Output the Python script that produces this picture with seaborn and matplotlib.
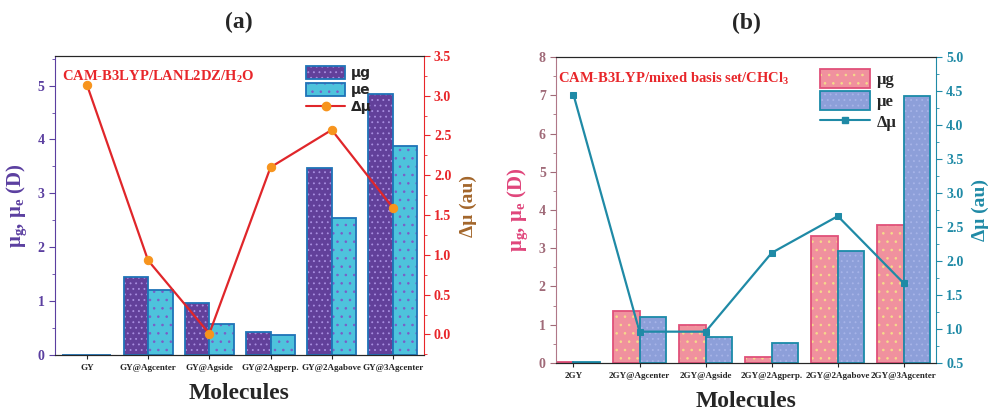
import numpy as np
import pandas as pd
import matplotlib
matplotlib.use("Agg")
import matplotlib.pyplot as plt
import matplotlib.colors as mcolors
from matplotlib.ticker import MultipleLocator
from matplotlib.patches import Patch
from matplotlib.lines import Line2D
import seaborn as sns

# panel (a) data
mol_a = ["GY", "GY@Agcenter", "GY@Agside", "GY@2Agperp.", "GY@2Agabove", "GY@3Agcenter"]
mug_a = [0.01, 1.45, 0.97, 0.42, 3.47, 4.85]
mue_a = [0.01, 1.21, 0.57, 0.38, 2.55, 3.87]
dmu_a = [3.14, 0.93, 0.01, 2.10, 2.57, 1.59]

# panel (b) data
mol_b = ["2GY", "2GY@Agcenter", "2GY@Agside", "2GY@2Agperp.", "2GY@2Agabove", "2GY@3Agcenter"]
mug_b = [0.02, 1.35, 1.00, 0.15, 3.32, 3.61]
mue_b = [0.02, 1.20, 0.68, 0.52, 2.94, 6.98]
dmu_b = [4.45, 0.96, 0.96, 2.12, 2.66, 1.67]

sns.set_style("ticks")
plt.rcParams["font.family"] = ["Liberation Serif", "DejaVu Serif"]
plt.rcParams["font.weight"] = "bold"
plt.rcParams["mathtext.fontset"] = "custom"
plt.rcParams["mathtext.rm"] = "Liberation Serif:bold"
plt.rcParams["mathtext.it"] = "Liberation Serif:bold"
plt.rcParams["mathtext.default"] = "rm"
plt.rcParams["hatch.linewidth"] = 0.6

fig = plt.figure(figsize=(9.88, 4.11), dpi=100)
ax_a = fig.add_axes([0.0557, 0.136, 0.373, 0.728])
ax_b = fig.add_axes([0.563, 0.117, 0.384, 0.744])


def long_df(mols, mug, mue):
    return pd.DataFrame({
        "Molecule": mols * 2,
        "series": ["μg"] * len(mols) + ["μe"] * len(mols),
        "value": mug + mue,
    })


def style_bars(ax, n, faces, edges, hatches, hcolors):
    bars = [p for p in ax.patches][:2 * n]
    for i, p in enumerate(bars):
        s = i // n
        p.set_facecolor(faces[s])
        p.set_edgecolor(edges[s])
        p.set_linewidth(1.3)
        p.set_hatch(hatches[s])
        p._hatch_color = mcolors.to_rgba(hcolors[s])


def hpatch(face, edge, hatch, hcol):
    p = Patch(facecolor=face, edgecolor=edge, hatch=hatch, linewidth=1.3)
    p._hatch_color = mcolors.to_rgba(hcol)
    return p


# ---------- panel (a) ----------
pur, cyan = "#62409a", "#4ec3dc"
edge_a = "#1f73b7"
hat_a = ["...", ".."]
hcol_a = ["#a88ee0", "#7b5cc8"]
df_a = long_df(mol_a, mug_a, mue_a)
sns.barplot(data=df_a, x="Molecule", y="value", hue="series", ax=ax_a,
            palette=[pur, cyan], saturation=1, width=0.8, legend=False)
style_bars(ax_a, 6, [pur, cyan], [edge_a, edge_a], hat_a, hcol_a)
ax_a.set_xlim(-0.52, 5.5)
ax_a.set_ylim(0, 5.55)
ax_a.yaxis.set_major_locator(MultipleLocator(1))
ax_a.yaxis.set_minor_locator(MultipleLocator(0.5))
ax_a.tick_params(axis="y", colors="#5b3fa0", labelsize=10, direction="out", length=4)
ax_a.tick_params(axis="y", which="minor", colors="#5b3fa0", length=2)
ax_a.tick_params(axis="x", labelsize=6.5, length=3)
ax_a.spines["left"].set_color("#5b3fa0")
ax_a.spines["right"].set_visible(False)
ax_a.set_ylabel("μ$_g$, μ$_e$ (D)", color="#5b3fa0", fontsize=15, fontweight="bold", labelpad=6)
ax_a.set_xlabel("Molecules", fontsize=17, fontweight="bold", labelpad=8)
ax_a.text(0.02, 0.955, "CAM-B3LYP/LANL2DZ/H$_2$O", transform=ax_a.transAxes,
          color="#e8262a", fontsize=10.5, fontweight="bold", va="top")

ax_a2 = ax_a.twinx()
sns.lineplot(x=np.arange(len(mol_a)), y=dmu_a, ax=ax_a2, color="#e0262a", lw=1.6,
             marker="o", markersize=6, markerfacecolor="#f7941d", markeredgecolor="#f7941d")
ax_a2.set_ylim(-0.26, 3.5)
ax_a2.yaxis.set_major_locator(MultipleLocator(0.5))
ax_a2.yaxis.set_minor_locator(MultipleLocator(0.25))
ax_a2.tick_params(axis="y", colors="#e8262a", labelsize=10, length=4)
ax_a2.tick_params(axis="y", which="minor", colors="#e8262a", length=2)
ax_a2.spines["right"].set_color("#e8262a")
ax_a2.spines["left"].set_visible(False)
ax_a2.set_ylabel("Δμ (au)", color="#a3662b", fontsize=14, fontweight="bold", labelpad=6)

h_a = [hpatch(pur, edge_a, hat_a[0], hcol_a[0]),
       hpatch(cyan, edge_a, hat_a[1], hcol_a[1]),
       Line2D([], [], color="#e0262a", marker="o", markerfacecolor="#f7941d",
              markeredgecolor="#f7941d")]
ax_a2.legend(h_a, ["μg", "μe", "Δμ"], loc="upper left", bbox_to_anchor=(0.655, 1.0),
             frameon=False, prop={"family": "DejaVu Sans", "size": 10},
             handlelength=2.8, handleheight=1.1, labelspacing=0.2, handletextpad=0.4,
             borderaxespad=0.3)
ax_a.set_title("(a)", fontsize=17, fontweight="bold", pad=20)

# ---------- panel (b) ----------
pink, lav = "#f0919e", "#8d9fd9"
edge_b = ["#e0507a", "#1a8aa8"]
hat_b = ["..", "..."]
hcol_b = ["#f5dc8a", "#a7b4e8"]
df_b = long_df(mol_b, mug_b, mue_b)
sns.barplot(data=df_b, x="Molecule", y="value", hue="series", ax=ax_b,
            palette=[pink, lav], saturation=1, width=0.8, legend=False)
style_bars(ax_b, 6, [pink, lav], edge_b, hat_b, hcol_b)
ax_b.set_xlim(-0.26, 5.48)
ax_b.set_ylim(0, 8)
ax_b.yaxis.set_major_locator(MultipleLocator(1))
ax_b.yaxis.set_minor_locator(MultipleLocator(0.5))
ax_b.tick_params(axis="y", colors="#a06a78", labelsize=10, length=4)
ax_b.tick_params(axis="y", which="minor", colors="#a06a78", length=2)
ax_b.tick_params(axis="x", labelsize=6.5, length=3)
ax_b.spines["left"].set_color("#b07888")
ax_b.spines["right"].set_visible(False)
ax_b.set_ylabel("μ$_g$, μ$_e$ (D)", color="#e0457b", fontsize=15, fontweight="bold", labelpad=6)
ax_b.set_xlabel("Molecules", fontsize=17, fontweight="bold", labelpad=8)
ax_b.text(0.005, 0.955, "CAM-B3LYP/mixed basis set/CHCl$_3$", transform=ax_b.transAxes,
          color="#e8262a", fontsize=10.5, fontweight="bold", va="top")

teal = "#1f8aa6"
ax_b2 = ax_b.twinx()
sns.lineplot(x=np.arange(len(mol_b)), y=dmu_b, ax=ax_b2, color=teal, lw=1.6,
             marker="s", markersize=5, markerfacecolor=teal, markeredgecolor=teal)
ax_b2.set_ylim(0.5, 5.0)
ax_b2.yaxis.set_major_locator(MultipleLocator(0.5))
ax_b2.yaxis.set_minor_locator(MultipleLocator(0.25))
ax_b2.tick_params(axis="y", colors=teal, labelsize=10, length=4)
ax_b2.tick_params(axis="y", which="minor", colors=teal, length=2)
ax_b2.spines["right"].set_color(teal)
ax_b2.spines["left"].set_visible(False)
ax_b2.set_ylabel("Δμ (au)", color=teal, fontsize=14, fontweight="bold", labelpad=6)

h_b = [hpatch(pink, edge_b[0], hat_b[0], hcol_b[0]),
       hpatch(lav, edge_b[1], hat_b[1], hcol_b[1]),
       Line2D([], [], color=teal, marker="s", markersize=5)]
ax_b2.legend(h_b, ["μg", "μe", "Δμ"], loc="upper left", bbox_to_anchor=(0.665, 1.0),
             frameon=False, prop={"size": 12, "weight": "bold"},
             handlelength=3.0, handleheight=1.4, labelspacing=0.15, handletextpad=0.4,
             borderaxespad=0.3)
ax_b.set_title("(b)", fontsize=17, fontweight="bold", pad=20)

fig.savefig("out.png", dpi=100)
